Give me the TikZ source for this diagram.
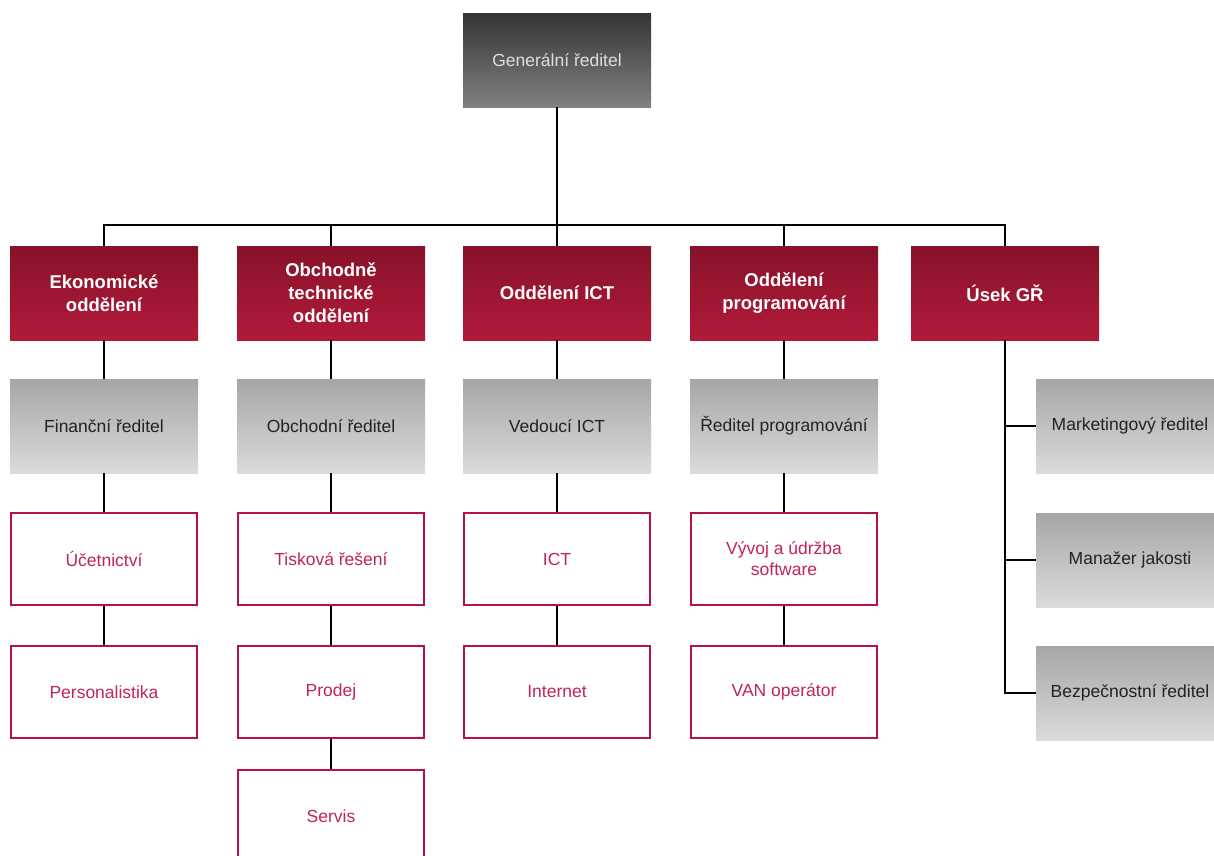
\documentclass[tikz,border=0pt]{standalone}
\usepackage{fontspec}
\setmainfont{Liberation Sans}
\definecolor{redtop}{HTML}{861229}
\definecolor{redbot}{HTML}{B21A3A}
\definecolor{graytop}{HTML}{A6A6A6}
\definecolor{graybot}{HTML}{DBDBDB}
\definecolor{gtop}{HTML}{343434}
\definecolor{gbot}{HTML}{818181}
\definecolor{crimson}{HTML}{B5123F}
\definecolor{crimtext}{HTML}{C0245A}
\definecolor{gtext}{HTML}{222222}
\tikzset{
  box/.style={rectangle, minimum width=188pt, minimum height=94pt, inner sep=2pt, align=center, anchor=center},
  topbox/.style={box, top color=gtop, bottom color=gbot, draw=none, text=gray!25, font=\fontsize{17.5}{21}\selectfont},
  redbox/.style={box, top color=redtop, bottom color=redbot, draw=none, text=white, font=\fontsize{18.5}{23}\selectfont\bfseries},
  graybox/.style={box, top color=graytop, bottom color=graybot, draw=none, text=gtext, font=\fontsize{17.5}{21}\selectfont},
  whitebox/.style={box, fill=white, draw=crimson, line width=2pt, minimum width=186pt, minimum height=92pt, text=crimtext, font=\fontsize{17.5}{21}\selectfont},
  conn/.style={draw=black, line width=2pt}
}
\begin{document}
\begin{tikzpicture}[x=1pt,y=-1pt]
\useasboundingbox (0,0) rectangle (1214,855);
% top
\node[topbox] (gr) at (557,60) {Generální ředitel};
% row 1
\node[redbox] (r1a) at (104,293) {Ekonomické\\oddělení};
\node[redbox] (r1b) at (331,293) {Obchodně\\technické\\oddělení};
\node[redbox] (r1c) at (557,293) {Oddělení ICT};
\node[redbox] (r1d) at (784,293) {Oddělení\\programování};
\node[redbox] (r1e) at (1005,293) {Úsek GŘ};
% row 2
\node[graybox] (r2a) at (104,426) {Finanční ředitel};
\node[graybox] (r2b) at (331,426) {Obchodní ředitel};
\node[graybox] (r2c) at (557,426) {Vedoucí ICT};
\node[graybox] (r2d) at (784,426) {Ředitel programování};
% row 3
\node[whitebox] (r3a) at (104,559) {Účetnictví};
\node[whitebox] (r3b) at (331,559) {Tisková řešení};
\node[whitebox] (r3c) at (557,559) {ICT};
\node[whitebox] (r3d) at (784,559) {Vývoj a údržba\\software};
% row 4
\node[whitebox] (r4a) at (104,692) {Personalistika};
\node[whitebox] (r4b) at (331,692) {Prodej};
\node[whitebox] (r4c) at (557,692) {Internet};
\node[whitebox] (r4d) at (784,692) {VAN operátor};
% row 5
\node[whitebox] (r5b) at (331,816) {Servis};
% right column
\node[graybox] (m1) at (1130,426) {Marketingový ředitel};
\node[graybox] (m2) at (1130,560) {Manažer jakosti};
\node[graybox] (m3) at (1130,693) {Bezpečnostní ředitel};
% connectors
\coordinate (bus) at (557,225);
\draw[conn] (gr.south) -- (bus);
\foreach \n in {r1a,r1b,r1c,r1d,r1e} { \draw[conn] (\n.north) |- (bus); }
\draw[conn] (r1a.south) -- (r2a.north);
\draw[conn] (r1b.south) -- (r2b.north);
\draw[conn] (r1c.south) -- (r2c.north);
\draw[conn] (r1d.south) -- (r2d.north);
\draw[conn] (r2a.south) -- (r3a.north);
\draw[conn] (r2b.south) -- (r3b.north);
\draw[conn] (r2c.south) -- (r3c.north);
\draw[conn] (r2d.south) -- (r3d.north);
\draw[conn] (r3a.south) -- (r4a.north);
\draw[conn] (r3b.south) -- (r4b.north);
\draw[conn] (r3c.south) -- (r4c.north);
\draw[conn] (r3d.south) -- (r4d.north);
\draw[conn] (r4b.south) -- (r5b.north);
\draw[conn] (r1e.south) |- (m3.west);
\draw[conn] (r1e.south |- m1.west) -- (m1.west);
\draw[conn] (r1e.south |- m2.west) -- (m2.west);
\end{tikzpicture}
\end{document}
